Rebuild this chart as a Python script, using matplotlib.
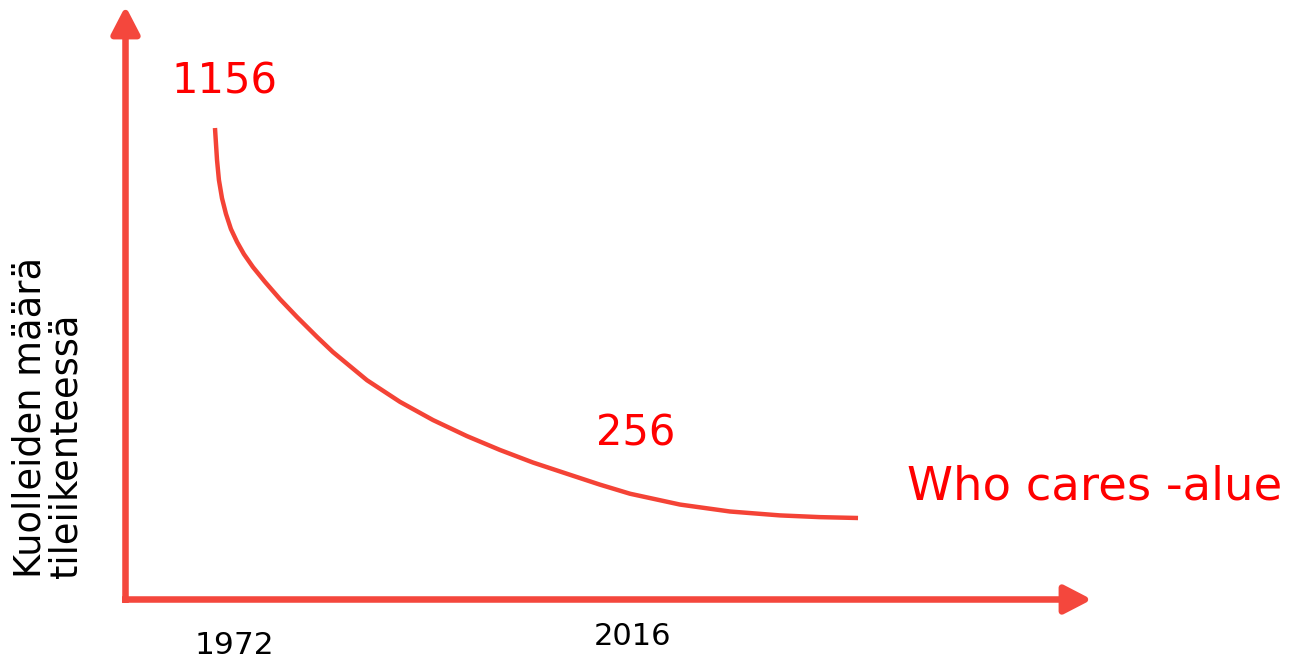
import matplotlib.pyplot as plt

plt.rcParams['font.family'] = ['DejaVu Sans']

# curve
years = [1972, 1972.14, 1972.27, 1972.48, 1972.75, 1973.09, 1973.51, 1973.98, 1974.6,
         1975.42, 1976.45, 1977.61, 1978.98, 1980.07, 1982.4, 1984.66, 1986.92,
         1989.24, 1991.5, 1993.76, 1996.09, 1998.34, 2000.4, 2003.82, 2007.24,
         2010.66, 2013.4, 2016]
deaths = [1156, 1082, 1036, 994, 958, 923, 893, 865, 835,
          801, 761, 720, 674, 639, 574, 524, 482,
          445, 413, 384, 358, 333, 312, 287, 271,
          262, 258, 256]

top_label = "1156"
low_label = "256"
zone_label = "Who cares -alue"
x_labels = ["1972", "2016"]
y_label = "Kuolleiden määrä\ntileiikenteessä"

axis_red = '#f4473d'
curve_red = '#f44336'
text_red = '#ff0000'

W, H = 1289, 661
fig = plt.figure(figsize=(W / 100, H / 100), dpi=100)
ax = fig.add_axes([0, 0, 1, 1])
ax.set_xlim(1957.29, 2045.49)
ax.set_ylim(-74.0, 1451.4)
ax.axis('off')

ax.plot(years, deaths, color=curve_red, lw=3.2, solid_capstyle='butt',
        solid_joinstyle='round')

# axis arrows (figure pixels, origin bottom-left)
arrow = dict(arrowstyle='-|>,head_length=0.83,head_width=0.43', color=axis_red,
             lw=4.7, mutation_scale=20, shrinkA=0, shrinkB=0, capstyle='butt')
ax.annotate('', xy=(125.5, H - 6), xytext=(125.5, H - 603), xycoords='figure pixels',
            textcoords='figure pixels', arrowprops=arrow)
ax.annotate('', xy=(1092, H - 599.5), xytext=(122, H - 599.5), xycoords='figure pixels',
            textcoords='figure pixels', arrowprops=arrow)


def put(px, py, s, **kw):
    fig.text(px / W, 1 - py / H, s, **kw)


put(224, 93, top_label, color=text_red, fontsize=30, ha='center', va='baseline')
put(636, 445, low_label, color=text_red, fontsize=30, ha='center', va='baseline')
put(1095, 500, zone_label, color=text_red, fontsize=33.5, ha='center', va='baseline')
put(234, 654, x_labels[0], color='black', fontsize=22.5, ha='center', va='baseline')
put(633, 645, x_labels[1], color='black', fontsize=22, ha='center', va='baseline')
put(48, 578, y_label, color='black', fontsize=26.5, rotation=90, ha='center',
    va='bottom', multialignment='left', linespacing=0.95)

fig.savefig('out.png', dpi=100)
